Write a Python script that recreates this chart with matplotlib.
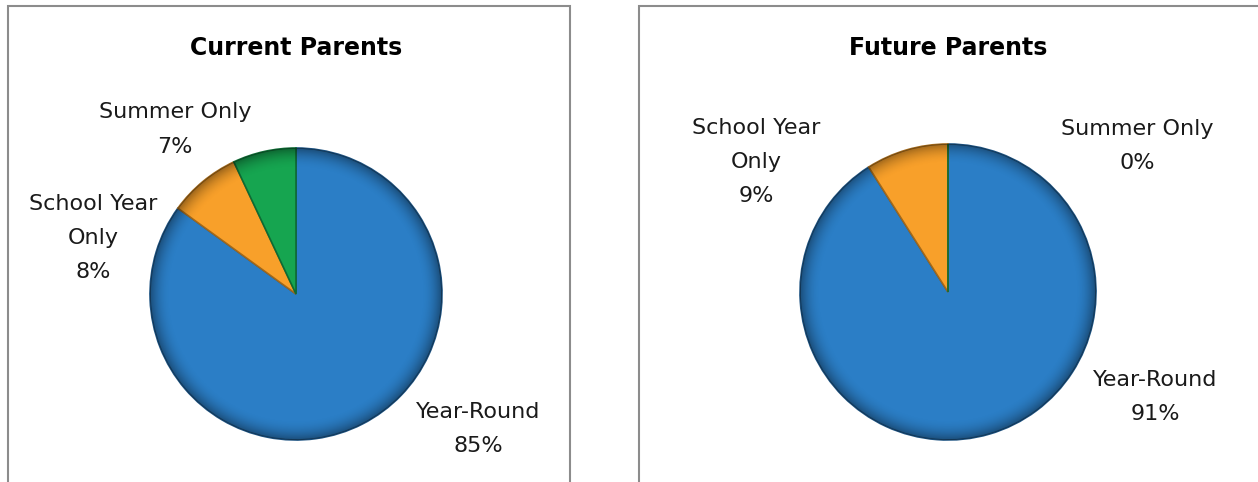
import matplotlib
matplotlib.use("Agg")
import matplotlib.pyplot as plt
import numpy as np
from matplotlib.patches import Rectangle, Circle
from matplotlib.colors import to_rgb

# ── Data ────────────────────────────────────────────────────
categories = ["Year-Round", "School Year Only", "Summer Only"]
current_parents = [85, 8, 7]
future_parents = [91, 9, 0]

colors = ["#2B7EC6", "#F8A02A", "#16A550"]

W, H = 1258, 482


def darker(c, f=0.7):
    r, g, b = to_rgb(c)
    return (r * f, g * f, b * f)


def pie_axes(fig, cx, cy, r):
    # cx, cy, r in pixels (y from top)
    return fig.add_axes([(cx - r) / W, (H - cy - r) / H, 2 * r / W, 2 * r / H])


def draw_pie(ax, values, title, label_pos, title_y):
    wedges, _ = ax.pie(values, colors=colors, startangle=90, counterclock=False,
                       radius=1, wedgeprops=dict(linewidth=1.2))
    for w, c in zip(wedges, colors):
        w.set_edgecolor(darker(c, 0.65))

    # bevel-like rim shading
    n = 400
    g = np.linspace(-1, 1, n)
    xx, yy = np.meshgrid(g, g)
    rr = np.sqrt(xx ** 2 + yy ** 2)
    alpha = np.clip((rr - 0.86) / 0.14, 0, 1) ** 2 * 0.38
    rgba = np.zeros((n, n, 4))
    rgba[..., 3] = alpha
    im = ax.imshow(rgba, extent=(-1, 1, -1, 1), origin="lower", zorder=3)
    im.set_clip_path(Circle((0, 0), 1.0, transform=ax.transData))

    ax.set_xlim(-1, 1)
    ax.set_ylim(-1, 1)
    ax.set_aspect("equal")
    ax.axis("off")

    for (x, y), name, v in zip(label_pos, categories, values):
        if name == "School Year Only":
            name = "School Year\nOnly"
        ax.text(x, y, f"{name}\n{v}%", ha="center", va="center", fontsize=16,
                family="DejaVu Sans", color="#1a1a1a", linespacing=1.9, clip_on=False)
    ax.text(0, title_y, title, ha="center", va="center", fontsize=17,
            family="DejaVu Sans", weight="bold", color="black", clip_on=False)


fig = plt.figure(figsize=(W / 100, H / 100), dpi=100)
fig.patch.set_facecolor("white")

# panel frames
fig.add_artist(Rectangle((8 / W, -0.1), (570 - 8) / W, 1.1 - 6 / H, transform=fig.transFigure,
                         fill=False, edgecolor="#8c8c8c", linewidth=1.5))
fig.add_artist(Rectangle((639 / W, -0.1), 0.6, 1.1 - 6 / H, transform=fig.transFigure,
                         fill=False, edgecolor="#8c8c8c", linewidth=1.5))

ax1 = pie_axes(fig, 296, 294, 146)
draw_pie(ax1, current_parents, "Current Parents",
         [(1.247, -0.925), (-1.39, 0.384), (-0.83, 1.127)], (294 - 48) / 146)

ax2 = pie_axes(fig, 948, 292, 148)
draw_pie(ax2, future_parents, "Future Parents",
         [(1.399, -0.709), (-1.297, 0.878), (1.277, 0.986)], (292 - 48) / 148)

fig.savefig("out.png", dpi=100, facecolor="white")
